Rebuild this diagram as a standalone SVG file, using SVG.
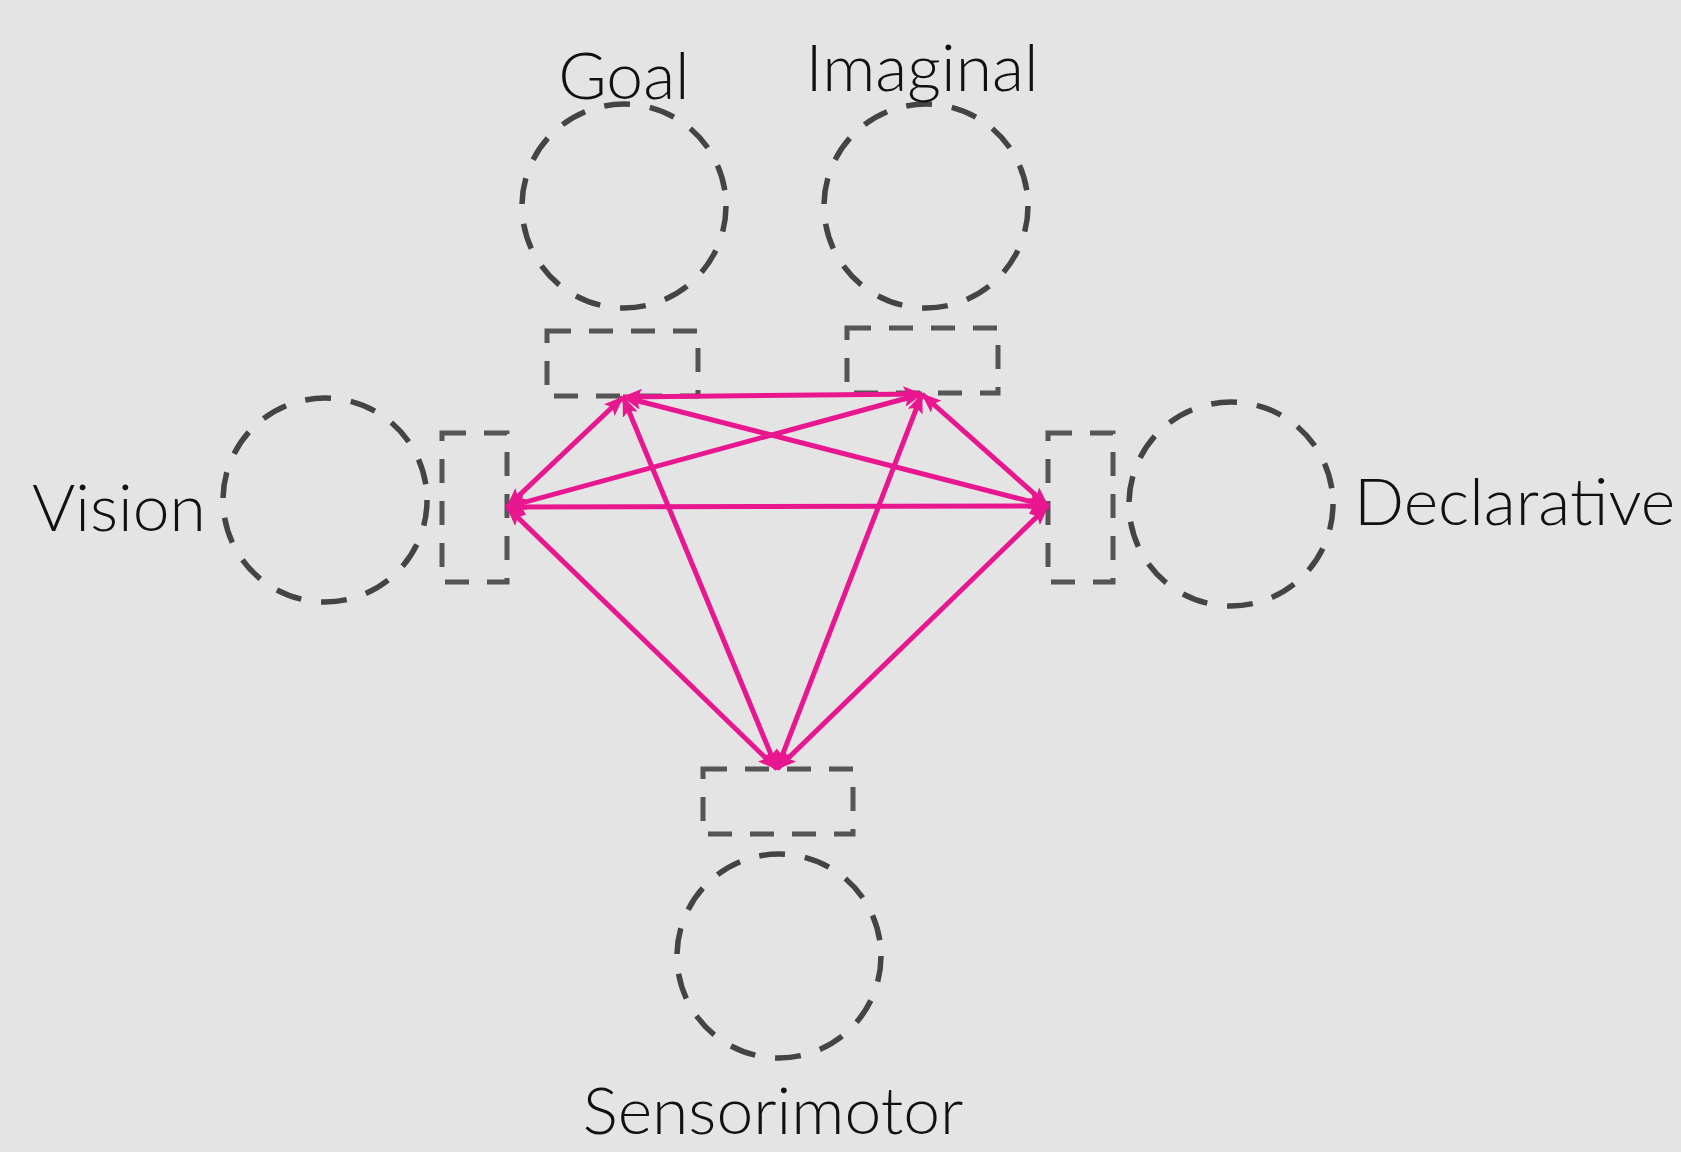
<svg xmlns="http://www.w3.org/2000/svg" width="1681" height="1152" viewBox="0 0 1681 1152">
  <style>
    .module { fill: none; stroke: #444444; stroke-width: 5.5; stroke-dasharray: 26 20; }
    .buffer { fill: none; stroke: #555555; stroke-width: 5; stroke-dasharray: 24 18; }
    .label { font-family: Lato, "Open Sans", "Liberation Sans", sans-serif; font-weight: 300; font-size: 66px; fill: #111111; }
    .link { stroke: #E8178F; stroke-width: 5; fill: none; marker-start: url(#head); marker-end: url(#head); }
  </style>
  <defs>
    <marker id="head" viewBox="0 0 20 16" refX="19" refY="8" markerWidth="20" markerHeight="16" markerUnits="userSpaceOnUse" orient="auto-start-reverse">
      <path d="M0,0 L20,8 L0,16 L4,8 Z" fill="#E8178F"/>
    </marker>
  </defs>
  <rect width="1681" height="1152" fill="#E4E4E4"/>

  <g id="goal">
    <circle class="module" cx="624" cy="206" r="102"/>
    <rect class="buffer" x="547" y="331" width="151" height="65"/>
    <text class="label" x="624" y="99" text-anchor="middle">Goal</text>
  </g>
  <g id="imaginal">
    <circle class="module" cx="926" cy="206" r="102"/>
    <rect class="buffer" x="847" y="328" width="151" height="65"/>
    <text class="label" x="922" y="91" text-anchor="middle">Imaginal</text>
  </g>
  <g id="vision">
    <circle class="module" cx="325" cy="500" r="102"/>
    <rect class="buffer" x="442" y="433" width="65" height="149"/>
    <text class="label" x="32" y="531">Vision</text>
  </g>
  <g id="declarative">
    <circle class="module" cx="1231" cy="504" r="102"/>
    <rect class="buffer" x="1048" y="433" width="65" height="149"/>
    <text class="label" x="1354" y="525">Declarative</text>
  </g>
  <g id="sensorimotor">
    <circle class="module" cx="779" cy="956" r="102"/>
    <rect class="buffer" x="703" y="769" width="150" height="65"/>
    <text class="label" x="773" y="1134" text-anchor="middle">Sensorimotor</text>
  </g>

  <g id="connectors">
    <line class="link" x1="623" y1="397" x2="922" y2="394"/>
    <line class="link" x1="623" y1="397" x2="507" y2="507"/>
    <line class="link" x1="623" y1="397" x2="1048" y2="506"/>
    <line class="link" x1="623" y1="397" x2="777" y2="769"/>
    <line class="link" x1="922" y1="394" x2="507" y2="507"/>
    <line class="link" x1="922" y1="394" x2="1048" y2="506"/>
    <line class="link" x1="922" y1="394" x2="777" y2="769"/>
    <line class="link" x1="507" y1="507" x2="1048" y2="506"/>
    <line class="link" x1="507" y1="507" x2="777" y2="769"/>
    <line class="link" x1="1048" y1="506" x2="777" y2="769"/>
  </g>
</svg>
